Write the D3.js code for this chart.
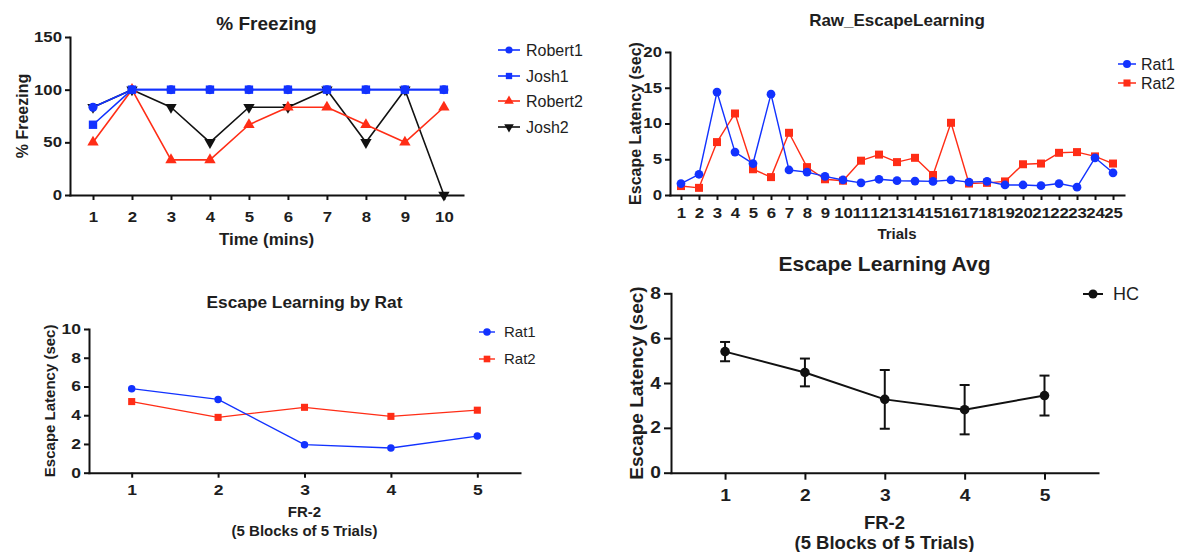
<!DOCTYPE html>
<html>
<head>
<meta charset="utf-8">
<script src="https://cdn.jsdelivr.net/npm/d3@7"></script>
<style>
  body { margin: 0; background: #fff; }
  svg { display: block; }
  text { font-family: "Liberation Sans", Arial, sans-serif; fill: #1e1e1e; }
</style>
</head>
<body>
<svg id="fig" width="1178" height="552"></svg>
<script>
// ---------- % Freezing ----------
const minutes = [1, 2, 3, 4, 5, 6, 7, 8, 9, 10];
const robert1 = [83.3, 100, 100, 100, 100, 100, 100, 100, 100, 100];
const josh1   = [66.7, 100, 100, 100, 100, 100, 100, 100, 100, 100];
const robert2 = [50, 100, 33.3, 33.3, 66.7, 83.3, 83.3, 66.7, 50, 83.3];
const josh2   = [83.3, 100, 83.3, 50, 83.3, 83.3, 100, 50, 100, 0];
const freezeTicks = [0, 50, 100, 150];

// ---------- Raw escape latency per trial ----------
const trials = [1, 2, 3, 4, 5, 6, 7, 8, 9, 10, 11, 12, 13, 14, 15, 16, 17, 18, 19, 20, 21, 22, 23, 24, 25];
const rat1Raw = [1.6, 2.9, 14.4, 6.0, 4.4, 14.1, 3.5, 3.2, 2.6, 2.1, 1.7, 2.2, 2.0, 1.95, 1.9, 2.1, 1.8, 1.9, 1.4, 1.4, 1.3, 1.6, 1.1, 5.2, 3.1];
const rat2Raw = [1.25, 1.0, 7.4, 11.4, 3.6, 2.5, 8.7, 3.9, 2.2, 2.0, 4.8, 5.65, 4.6, 5.2, 2.8, 10.1, 1.6, 1.7, 1.9, 4.3, 4.4, 5.9, 6.0, 5.4, 4.4];
const rawTicks = [0, 5, 10, 15, 20];

// ---------- Block means per rat ----------
const blocks = [1, 2, 3, 4, 5];
const rat1Block = [5.85, 5.1, 1.95, 1.72, 2.55];
const rat2Block = [4.95, 3.85, 4.55, 3.92, 4.35];
const blockTicks = [0, 2, 4, 6, 8, 10];

// ---------- Group average (mean ± SEM) ----------
const hcMean = [5.4, 4.47, 3.27, 2.81, 3.44];
const hcSem  = [0.43, 0.62, 1.31, 1.1, 0.89];
const avgTicks = [0, 2, 4, 6, 8];

const BLUE = "#1232ff", RED = "#ff2d16", BLACK = "#111111", INK = "#1e1e1e";
const svg = d3.select("#fig");

function drawPanel(p) {
  const g = svg.append("g");
  const x = d3.scaleLinear().domain(p.xDomain).range([p.left, p.right]);
  const y = d3.scaleLinear().domain([0, d3.max(p.yTicks)]).range([p.bottom, p.top]);

  const xa = g.append("g").attr("transform", `translate(0,${p.bottom})`)
    .call(d3.axisBottom(x).tickValues(p.xTicks).tickFormat(d3.format("d"))
      .tickSize(p.tick).tickSizeOuter(0).tickPadding(p.xPad));
  const ya = g.append("g").attr("transform", `translate(${p.left},0)`)
    .call(d3.axisLeft(y).tickValues(p.yTicks)
      .tickSize(p.tick).tickSizeOuter(0).tickPadding(p.yPad));
  [xa, ya].forEach(a => {
    a.select(".domain").attr("stroke", BLACK).attr("stroke-width", 2).attr("stroke-linecap", "square");
    a.selectAll(".tick line").attr("stroke", BLACK).attr("stroke-width", 2);
    // tick numerals are set slightly wide
    a.selectAll(".tick text").each(function () {
      const t = d3.select(this);
      const tx = +t.attr("x") || 0;
      t.attr("x", tx / p.stretch).attr("transform", `scale(${p.stretch},1)`)
        .attr("font-size", p.tickFont).attr("font-weight", "bold").style("fill", INK);
    });
  });

  // title
  g.append("text").attr("x", (p.left + p.right) / 2).attr("y", p.titleY)
    .attr("text-anchor", "middle").attr("dy", "0.35em")
    .attr("font-size", p.titleFont).attr("font-weight", "bold").text(p.title);
  // y title
  g.append("text").attr("transform", `translate(${p.yTitleX},${(p.top + p.bottom) / 2}) rotate(-90)`)
    .attr("text-anchor", "middle").attr("dy", "0.35em")
    .attr("font-size", p.yTitleFont).attr("font-weight", "bold").text(p.yTitle);
  // x title (one or more lines)
  p.xTitle.forEach((t, i) => {
    g.append("text").attr("x", (p.left + p.right) / 2).attr("y", p.xTitleY[i])
      .attr("text-anchor", "middle").attr("dy", "0.35em")
      .attr("font-size", p.xTitleFont).attr("font-weight", "bold").text(t);
  });
  return { g, x, y };
}

function symbolPath(shape, size) {
  const types = { circle: d3.symbolCircle, square: d3.symbolSquare, up: d3.symbolTriangle, down: d3.symbolTriangle };
  return d3.symbol(types[shape], size)();
}

function drawSeries(ctx, xs, ys, s) {
  const pts = xs.map((d, i) => [d, ys[i]]);
  ctx.g.append("path").datum(pts)
    .attr("d", d3.line().x(d => ctx.x(d[0])).y(d => ctx.y(d[1])))
    .attr("fill", "none").attr("stroke", s.color).attr("stroke-width", s.width)
    .attr("stroke-linejoin", "round");
  ctx.g.append("g").selectAll("path").data(pts).join("path")
    .attr("transform", d => `translate(${ctx.x(d[0])},${ctx.y(d[1])})${s.shape === "down" ? " rotate(180)" : ""}`)
    .attr("d", symbolPath(s.shape, s.size))
    .attr("fill", s.color);
}

function drawLegend(items, lx, ys, opt) {
  const g = svg.append("g");
  items.forEach((s, i) => {
    const row = g.append("g").attr("transform", `translate(${lx},${ys[i]})`);
    row.append("line").attr("x1", -opt.half).attr("x2", opt.half)
      .attr("stroke", s.color).attr("stroke-width", opt.width);
    row.append("path").attr("d", symbolPath(s.shape, opt.size))
      .attr("transform", s.shape === "down" ? "rotate(180)" : null).attr("fill", s.color);
    row.append("text").attr("x", opt.gap).attr("dy", "0.35em")
      .attr("font-size", opt.font).text(s.name);
  });
}

// ===== Panel 1: % Freezing =====
const p1 = drawPanel({
  left: 70, right: 463, top: 37, bottom: 195,
  xDomain: [0.41, 10.49], xTicks: minutes, yTicks: freezeTicks,
  tick: 5, xPad: 12, yPad: 3, tickFont: 14, stretch: 1.2,
  title: "% Freezing", titleY: 23, titleFont: 19,
  yTitle: "% Freezing", yTitleX: 22, yTitleFont: 16,
  xTitle: ["Time (mins)"], xTitleY: [239], xTitleFont: 17
});
const s1 = [
  { name: "Robert1", data: robert1, color: BLUE, shape: "circle", size: 64 },
  { name: "Josh1", data: josh1, color: BLUE, shape: "square", size: 70 },
  { name: "Robert2", data: robert2, color: RED, shape: "up", size: 56 },
  { name: "Josh2", data: josh2, color: BLACK, shape: "down", size: 56 }
];
[s1[3], s1[2], s1[0], s1[1]].forEach(s => drawSeries(p1, minutes, s.data, { ...s, width: 1.6 }));
drawLegend(s1, 509, [50, 76, 101, 127], { half: 11, width: 1.6, size: 40, gap: 17, font: 16 });

// ===== Panel 2: Raw_EscapeLearning =====
const p2 = drawPanel({
  left: 670, right: 1124, top: 52, bottom: 195,
  xDomain: [0.39, 25.61], xTicks: trials, yTicks: rawTicks,
  tick: 5, xPad: 8, yPad: 3, tickFont: 14, stretch: 1.2,
  title: "Raw_EscapeLearning", titleY: 20, titleFont: 17,
  yTitle: "Escape Latency (sec)", yTitleX: 635, yTitleFont: 16,
  xTitle: ["Trials"], xTitleY: [234], xTitleFont: 15
});
const s2 = [
  { name: "Rat1", data: rat1Raw, color: BLUE, shape: "circle", size: 60 },
  { name: "Rat2", data: rat2Raw, color: RED, shape: "square", size: 64 }
];
[s2[1], s2[0]].forEach(s => drawSeries(p2, trials, s.data, { ...s, width: 1.4 }));
drawLegend(s2, 1127, [64, 83], { half: 9, width: 1.5, size: 50, gap: 14, font: 16 });

// ===== Panel 3: Escape Learning by Rat =====
const p3 = drawPanel({
  left: 89, right: 520, top: 329, bottom: 472.7,
  xDomain: [0.506, 5.494], xTicks: blocks, yTicks: blockTicks,
  tick: 5, xPad: 7, yPad: 3, tickFont: 14, stretch: 1.25,
  title: "Escape Learning by Rat", titleY: 302, titleFont: 17.3,
  yTitle: "Escape Latency (sec)", yTitleX: 50, yTitleFont: 15,
  xTitle: ["FR-2", "(5 Blocks of 5 Trials)"], xTitleY: [512, 531], xTitleFont: 15
});
const s3 = [
  { name: "Rat1", data: rat1Block, color: BLUE, shape: "circle", size: 44 },
  { name: "Rat2", data: rat2Block, color: RED, shape: "square", size: 50 }
];
[s3[1], s3[0]].forEach(s => drawSeries(p3, blocks, s.data, { ...s, width: 1.3 }));
drawLegend(s3, 487, [332, 359], { half: 8, width: 1.4, size: 44, gap: 17, font: 15 });

// ===== Panel 4: Escape Learning Avg =====
const p4 = drawPanel({
  left: 671, right: 1098, top: 293.3, bottom: 472.7,
  xDomain: [0.323, 5.67], xTicks: blocks, yTicks: avgTicks,
  tick: 7, xPad: 10, yPad: 3, tickFont: 16, stretch: 1.2,
  title: "Escape Learning Avg", titleY: 264, titleFont: 21,
  yTitle: "Escape Latency (sec)", yTitleX: 636, yTitleFont: 19,
  xTitle: ["FR-2", "(5 Blocks of 5 Trials)"], xTitleY: [523, 543], xTitleFont: 18.5
});
// error bars
const eb = p4.g.append("g").attr("stroke", BLACK).attr("stroke-width", 2);
blocks.forEach((b, i) => {
  const cx = p4.x(b), lo = p4.y(hcMean[i] - hcSem[i]), hi = p4.y(hcMean[i] + hcSem[i]);
  eb.append("line").attr("x1", cx).attr("x2", cx).attr("y1", lo).attr("y2", hi);
  eb.append("line").attr("x1", cx - 5).attr("x2", cx + 5).attr("y1", lo).attr("y2", lo);
  eb.append("line").attr("x1", cx - 5).attr("x2", cx + 5).attr("y1", hi).attr("y2", hi);
});
drawSeries(p4, blocks, hcMean, { color: BLACK, shape: "circle", size: 72, width: 2 });
drawLegend([{ name: "HC", color: BLACK, shape: "circle" }], 1093, [294], { half: 10, width: 2, size: 64, gap: 20, font: 18 });
</script>
</body>
</html>
